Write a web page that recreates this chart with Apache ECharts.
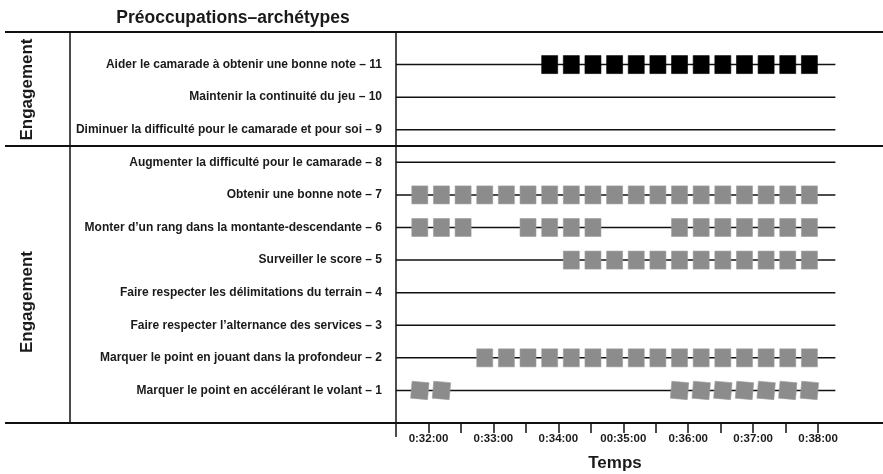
<!DOCTYPE html>
<html>
<head>
<meta charset="utf-8">
<script src="https://cdn.jsdelivr.net/npm/echarts@6/dist/echarts.min.js"></script>
<style>html,body{margin:0;padding:0;background:#fff}#c{width:883px;height:474px}</style>
</head>
<body>
<div id="c"></div>
<script>
// ---- data ----
const chartTitle = 'Préoccupations–archétypes';
const groupLabel = 'Engagement';
const xAxisTitle = 'Temps';
const rowLabels = [
  '',
  'Marquer le point en accélérant le volant – 1',
  'Marquer le point en jouant dans la profondeur – 2',
  'Faire respecter l\u2019alternance des services – 3',
  'Faire respecter les délimitations du terrain – 4',
  'Surveiller le score – 5',
  'Monter d\u2019un rang dans la montante-descendante – 6',
  'Obtenir une bonne note – 7',
  'Augmenter la difficulté pour le camarade – 8',
  'Diminuer la difficulté pour le camarade et pour soi – 9',
  'Maintenir la continuité du jeu – 10',
  'Aider le camarade à obtenir une bonne note – 11',
  ''
];
const tickLabels = ['0:32:00','0:33:00','0:34:00','00:35:00','0:36:00','0:37:00','0:38:00'];
const tickLabelTimes = ['32:00','33:00','34:00','35:00','36:00','37:00','38:00'];
const minorTickTimes = ['32:00','32:30','33:00','33:30','34:00','34:30','35:00','35:30','36:00','36:30','37:00','37:30','38:00'];

// observed times (mm:ss) per row
const row1Times  = ['31:52','32:12','35:52','36:12','36:32','36:52','37:12','37:32','37:52'];
const row2Times  = ['32:52','33:12','33:32','33:52','34:12','34:32','34:52','35:12','35:32','35:52','36:12','36:32','36:52','37:12','37:32','37:52'];
const row3Times  = [];
const row4Times  = [];
const row5Times  = ['34:12','34:32','34:52','35:12','35:32','35:52','36:12','36:32','36:52','37:12','37:32','37:52'];
const row6Times  = ['31:52','32:12','32:32','33:32','33:52','34:12','34:32','35:52','36:12','36:32','36:52','37:12','37:32','37:52'];
const row7Times  = ['31:52','32:12','32:32','32:52','33:12','33:32','33:52','34:12','34:32','34:52','35:12','35:32','35:52','36:12','36:32','36:52','37:12','37:32','37:52'];
const row8Times  = [];
const row9Times  = [];
const row10Times = [];
const row11Times = ['33:52','34:12','34:32','34:52','35:12','35:32','35:52','36:12','36:32','36:52','37:12','37:32','37:52'];

const axisStart = '31:30';
const axisEnd = '39:00';
const rowLineEnd = '38:16';

// ---- helpers ----
function sec(t){ const p = t.split(':'); return (+p[0])*60 + (+p[1]); }
const allRows = [row1Times,row2Times,row3Times,row4Times,row5Times,row6Times,row7Times,row8Times,row9Times,row10Times,row11Times];

const FONT = 'Liberation Sans, Arial, sans-serif';
const GREY = '#8c8c8c';

const series = [];
for (let k = 1; k <= 11; k++) {
  series.push({
    type: 'line', silent: true, symbol: 'none', z: 1,
    lineStyle: { color: '#111', width: 1.5 },
    data: [[sec(axisStart), k], [sec(rowLineEnd), k]]
  });
}
allRows.forEach((times, i) => {
  const k = i + 1;
  if (!times.length) return;
  series.push({
    type: 'scatter', z: 3,
    symbol: 'rect',
    symbolSize: k === 1 ? [17, 17] : [16, 18],
    symbolRotate: k === 1 ? -5 : 0,
    itemStyle: { opacity: 1, color: k === 11 ? '#000' : GREY, borderColor: k === 11 ? '#000' : '#9c9c9c', borderWidth: 0.6 },
    data: times.map(t => [sec(t), k])
  });
});

const chart = echarts.init(document.getElementById('c'), null, { renderer: 'canvas' });
chart.setOption({
  animation: false,
  backgroundColor: '#fff',
  textStyle: { fontFamily: FONT },
  grid: { left: 396, right: 0, top: 32, bottom: 51 },
  xAxis: {
    type: 'value', min: sec(axisStart), max: sec(axisEnd), interval: 30,
    axisLine: { show: true, lineStyle: { color: '#111', width: 2 } },
    axisTick: { show: true, length: 10, lineStyle: { color: '#111', width: 1.5 },
                customValues: minorTickTimes.map(sec) },
    axisLabel: { show: true, customValues: tickLabelTimes.map(sec), margin: 10,
                 fontFamily: FONT, fontSize: 11.5, fontWeight: 'bold', color: '#1a1a1a',
                 formatter: v => tickLabels[tickLabelTimes.map(sec).indexOf(v)] || '' },
    splitLine: { show: false }
  },
  yAxis: {
    type: 'value', min: 0, max: 12, interval: 1,
    axisLine: { show: true, lineStyle: { color: '#111', width: 1.5 } },
    axisTick: { show: false },
    splitLine: { show: false },
    axisLabel: { margin: 14, fontFamily: FONT, fontSize: 12, fontWeight: 'bold', color: '#1a1a1a',
                 formatter: v => rowLabels[v] || '' }
  },
  graphic: [
    { type: 'text', x: 233, y: 18, style: { text: chartTitle, font: 'bold 17.5px ' + FONT, fill: '#1a1a1a', align: 'center', verticalAlign: 'middle' } },
    { type: 'line', shape: { x1: 5, y1: 32, x2: 883, y2: 32 }, style: { stroke: '#111', lineWidth: 2 } },
    { type: 'line', shape: { x1: 5, y1: 146, x2: 883, y2: 146 }, style: { stroke: '#111', lineWidth: 2 } },
    { type: 'line', shape: { x1: 5, y1: 423, x2: 396, y2: 423 }, style: { stroke: '#111', lineWidth: 2 } },
    { type: 'line', shape: { x1: 70, y1: 32, x2: 70, y2: 423 }, style: { stroke: '#111', lineWidth: 1.5 } },
    { type: 'line', shape: { x1: 396, y1: 423, x2: 396, y2: 437 }, style: { stroke: '#111', lineWidth: 1.5 } },
    { type: 'text', x: 27, y: 89.5, rotation: Math.PI / 2,
      style: { text: groupLabel, font: 'bold 17px ' + FONT, fill: '#1a1a1a', align: 'center', verticalAlign: 'middle' } },
    { type: 'text', x: 27, y: 302, rotation: Math.PI / 2,
      style: { text: groupLabel, font: 'bold 17px ' + FONT, fill: '#1a1a1a', align: 'center', verticalAlign: 'middle' } },
    { type: 'text', x: 615, y: 463,
      style: { text: xAxisTitle, font: 'bold 17px ' + FONT, fill: '#1a1a1a', align: 'center', verticalAlign: 'middle' } }
  ],
  series: series
});
</script>
</body>
</html>
